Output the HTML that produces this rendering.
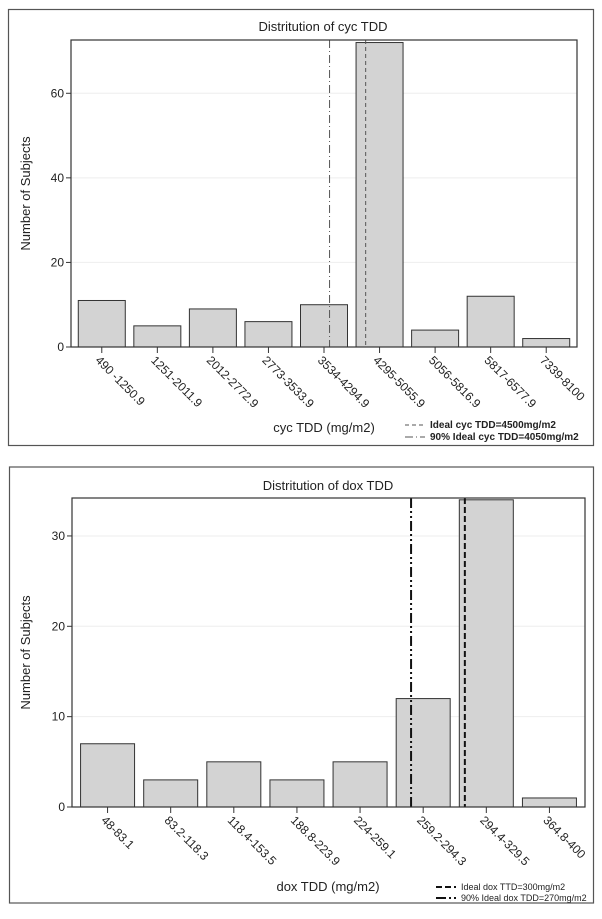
<!DOCTYPE html>
<html><head><meta charset="utf-8"><style>
body{margin:0;background:#fff;width:602px;height:914px;overflow:hidden}
svg text{font-family:"Liberation Sans",sans-serif;fill:#222}
</style></head><body>
<svg id="s" width="602" height="914" xmlns="http://www.w3.org/2000/svg"></svg>
<script>
const cycCategories=["490 -1250.9","1251-2011.9","2012-2772.9","2773-3533.9","3534-4294.9","4295-5055.9","5056-5816.9","5817-6577.9","7339-8100"];
const cycCounts=[11,5,9,6,10,72,4,12,2];
const cycTicks=[0,20,40,60];
const cycRefBins=[5,4];
const cycRefFrac=[0.25,0.6];
const cycLegend=["Ideal cyc TDD=4500mg/m2","90% Ideal cyc TDD=4050mg/m2"];
const doxCategories=["48-83.1","83.2-118.3","118.4-153.5","188.8-223.9","224-259.1","259.2-294.3","294.4-329.5","364.8-400"];
const doxCounts=[7,3,5,3,5,12,34,1];
const doxTicks=[0,10,20,30];
const doxRefBins=[6,5];
const doxRefFrac=[0.16,0.308];
const doxLegend=["Ideal dox TTD=300mg/m2","90% Ideal dox TDD=270mg/m2"];
const NS="http://www.w3.org/2000/svg";
const svg=document.getElementById('s');
function mk(tag,at,parent,txt){const e=document.createElementNS(NS,tag);for(const k in at)e.setAttribute(k,at[k]);if(txt!==undefined)e.textContent=txt;(parent||svg).appendChild(e);return e;}
function chart(o){
 const g=mk('g',{});
 
 
 const f=mk('rect',{x:o.fx,y:o.fy,width:o.fw,height:o.fh,fill:'none',stroke:'#555','stroke-width':1.2},g);
 
 const t=mk('text',{x:o.tx,y:o.ty,'text-anchor':'middle','font-size':13},g,o.title);
 
 const n=o.cats.length,bw=(o.pr-o.pl-o.pad*2)/n;
 const X=i=>o.pl+o.pad+bw*(i+0.5);
 const Y=v=>o.pb-(v/o.ymax)*(o.pb-o.pt);
 o.ticks.forEach(v=>{
  if(v>0){const gl=mk('line',{x1:o.pl,x2:o.pr,y1:Y(v),y2:Y(v),stroke:'#eee'},g);}
  mk('line',{x1:o.pl-5,x2:o.pl,y1:Y(v),y2:Y(v),stroke:'#333'},g);
  const tl=mk('text',{x:o.pl-7,y:Y(v)+4,'text-anchor':'end','font-size':12},g,v);
  
 });
 o.vals.forEach((v,i)=>{
  const r=mk('rect',{x:X(i)-o.barw/2,y:Y(v),width:o.barw,height:Y(0)-Y(v),fill:'#d3d3d3',stroke:'#333','stroke-width':1},g);
  
  mk('line',{x1:X(i),x2:X(i),y1:o.pb,y2:o.pb+6,stroke:'#333'},g);
  const l=mk('text',{x:0,y:0,'font-size':12,transform:`translate(${X(i)-7},${o.pb+14}) rotate(45)`},g,o.cats[i]);
  
 });
 o.refBins.forEach((b,k)=>{
  const x=o.pl+o.pad+bw*(b+o.refFrac[k]);
  const ln=mk('line',{x1:x,x2:x,y1:o.pt,y2:o.pb,stroke:o.refColor,'stroke-width':o.refW,'stroke-dasharray':o.dash[k]},g);
  
 });
 const p=mk('rect',{x:o.pl,y:o.pt,width:o.pr-o.pl,height:o.pb-o.pt,fill:'none',stroke:'#333','stroke-width':1.2},g);
 
 const yt=mk('text',{x:0,y:0,'text-anchor':'middle','font-size':13,transform:`translate(30,${(o.pt+o.pb)/2}) rotate(-90)`},g,'Number of Subjects');
 
 const xt=mk('text',{x:o.xtx,y:o.xty,'text-anchor':'middle','font-size':13},g,o.xtitle);
 
 o.legend.forEach((s,k)=>{
  const y=o.ly+k*o.lgap;
  const ll=mk('line',{x1:o.lx,x2:o.lx+20,y1:y-3,y2:y-3,stroke:o.refColor,'stroke-width':o.refW,'stroke-dasharray':o.dash[k]},g);
  
  const lt=mk('text',{x:o.lx+25,y:y,'font-size':o.lfs,'font-weight':o.lbold,fill:'#444'},g,s);
  
 });
}
chart({name:'cyc-chart',fx:8.5,fy:9.5,fw:585,fh:436,tx:323,ty:31,title:'Distritution of cyc TDD',
 pl:71,pr:577,pt:40,pb:347,pad:3,barw:47,ymax:72.6,cats:cycCategories,vals:cycCounts,ticks:cycTicks,
 refBins:cycRefBins,refFrac:cycRefFrac,refColor:'#555',refW:1,dash:['4,3','8,3,1,3'],
 xtitle:'cyc TDD (mg/m2)',xtx:324,xty:432,legend:cycLegend,lx:405,ly:428,lgap:12,lfs:10,lbold:'bold'});
chart({name:'dox-chart',fx:9.5,fy:467,fw:584,fh:436,tx:328,ty:490,title:'Distritution of dox TDD',
 pl:72,pr:585,pt:498,pb:807,pad:4,barw:54,ymax:34.2,cats:doxCategories,vals:doxCounts,ticks:doxTicks,
 refBins:doxRefBins,refFrac:doxRefFrac,refColor:'#111',refW:2,dash:['6,3','10,3,2,3,2,3'],
 xtitle:'dox TDD (mg/m2)',xtx:328,xty:891,legend:doxLegend,lx:436,ly:890,lgap:11,lfs:9,lbold:'normal'});
</script>
</body></html>
